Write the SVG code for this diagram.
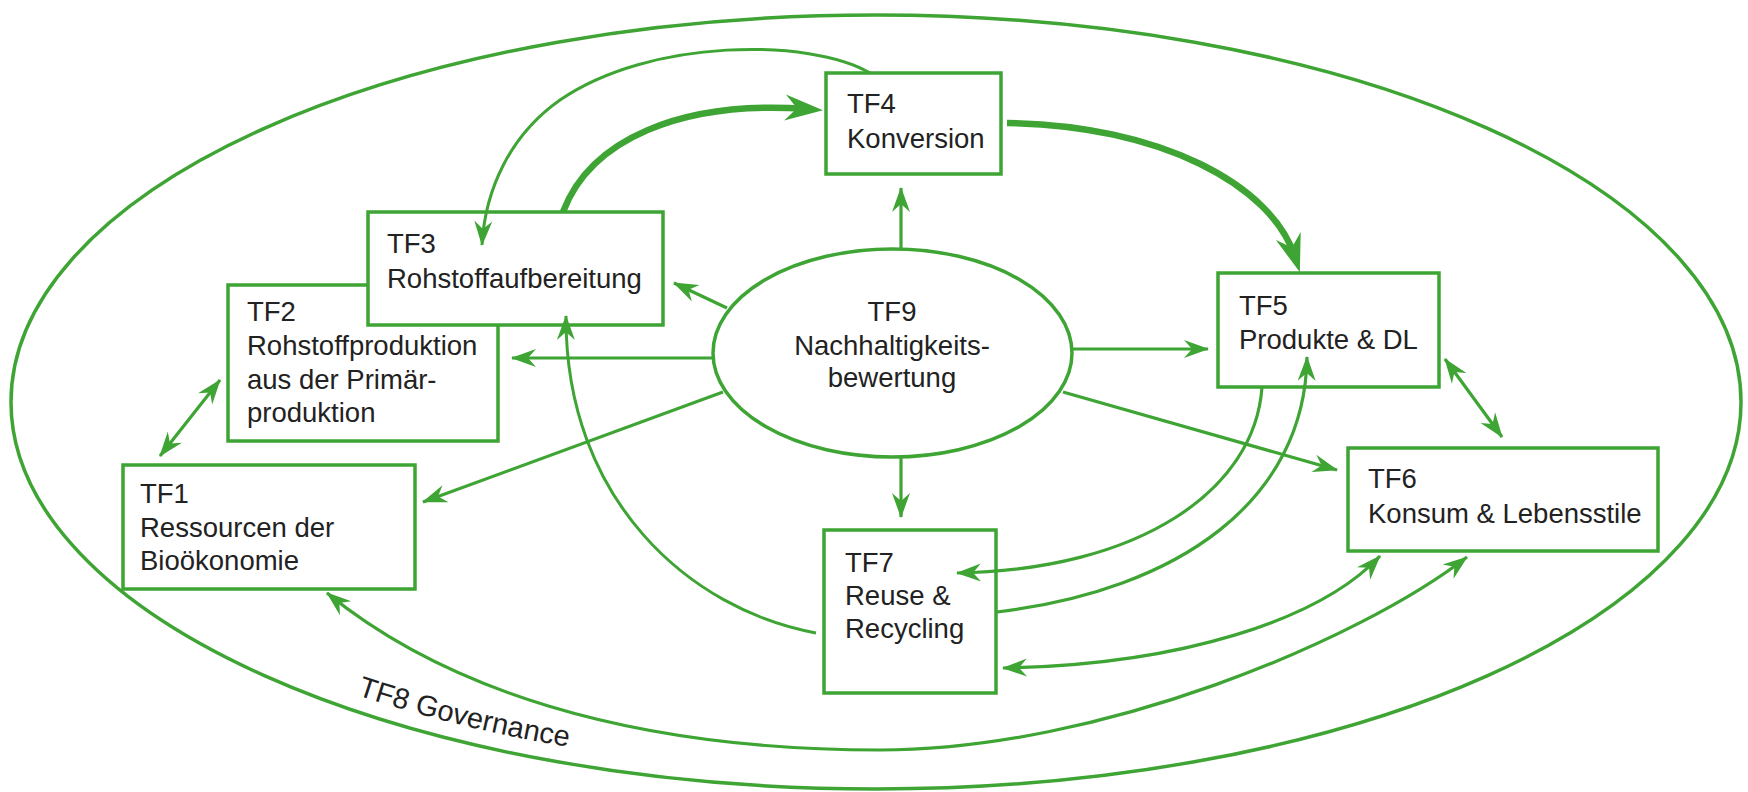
<svg xmlns="http://www.w3.org/2000/svg" width="1748" height="792" viewBox="0 0 1748 792">
<style>
.box{fill:#fff;stroke:#3ea434;stroke-width:3.5}
.ring{fill:none;stroke:#3ea434;stroke-width:3.5}
.lbl{font-family:"Liberation Sans",Arial,sans-serif;font-size:27.5px;fill:#222}
.gov{font-size:29px}
.c{fill:none;stroke:#3ea434;stroke-width:3.2}
.cth{fill:none;stroke:#3ea434;stroke-width:3}
.ck{fill:none;stroke:#3ea434;stroke-width:6.5}
</style>
<defs>
<marker id="ah" markerUnits="userSpaceOnUse" markerWidth="26" markerHeight="18" refX="24" refY="9" orient="auto-start-reverse" overflow="visible"><path d="M0,0 L25,9 L0,18 L8,9 z" fill="#3ea434"/></marker>
<marker id="ahb" markerUnits="userSpaceOnUse" markerWidth="38" markerHeight="26" refX="22" refY="13" orient="auto" overflow="visible"><path d="M0,0 L38,13 L0,26 L12,13 z" fill="#3ea434"/></marker>
<path id="govpath" d="M357,695 A850,370 0 0 0 1000,768"/>
</defs>

<g id="tf8">
<ellipse class="ring" cx="876" cy="402" rx="865" ry="387"/>
<text class="lbl gov"><textPath href="#govpath">TF8 Governance</textPath></text>
</g>

<g id="tf1">
<rect class="box" x="123" y="465" width="292" height="124"/>
<text class="lbl" x="140" y="503">TF1</text>
<text class="lbl" x="140" y="537">Ressourcen der</text>
<text class="lbl" x="140" y="570">Bioökonomie</text>
</g>

<g id="tf2">
<rect class="box" x="228" y="285" width="270" height="156"/>
<text class="lbl" x="247" y="321">TF2</text>
<text class="lbl" x="247" y="355">Rohstoffproduktion</text>
<text class="lbl" x="247" y="389">aus der Primär-</text>
<text class="lbl" x="247" y="422">produktion</text>
</g>

<g id="tf3">
<rect class="box" x="368" y="212" width="295" height="113"/>
<text class="lbl" x="387" y="253">TF3</text>
<text class="lbl" x="387" y="288">Rohstoffaufbereitung</text>
</g>

<g id="tf4">
<rect class="box" x="826" y="73" width="175" height="101"/>
<text class="lbl" x="847" y="113">TF4</text>
<text class="lbl" x="847" y="148">Konversion</text>
</g>

<g id="tf5">
<rect class="box" x="1218" y="273" width="221" height="114"/>
<text class="lbl" x="1239" y="315">TF5</text>
<text class="lbl" x="1239" y="349">Produkte &amp; DL</text>
</g>

<g id="tf6">
<rect class="box" x="1348" y="448" width="310" height="103"/>
<text class="lbl" x="1368" y="488">TF6</text>
<text class="lbl" x="1368" y="523">Konsum &amp; Lebensstile</text>
</g>

<g id="tf7">
<rect class="box" x="824" y="530" width="172" height="163"/>
<text class="lbl" x="845" y="572">TF7</text>
<text class="lbl" x="845" y="605">Reuse &amp;</text>
<text class="lbl" x="845" y="638">Recycling</text>
</g>

<g id="tf9">
<ellipse class="box" cx="892.5" cy="353" rx="179.5" ry="104"/>
<text class="lbl" x="892" y="321" text-anchor="middle">TF9</text>
<text class="lbl" x="892" y="355" text-anchor="middle">Nachhaltigkeits-</text>
<text class="lbl" x="892" y="387" text-anchor="middle">bewertung</text>
</g>

<g id="connectors">
<path class="c" d="M901,249 L901,188" marker-end="url(#ah)"/>
<path class="c" d="M901,457 L901,517" marker-end="url(#ah)"/>
<path class="c" d="M727,308 L674,283" marker-end="url(#ah)"/>
<path class="c" d="M713,358 L512,358" marker-end="url(#ah)"/>
<path class="c" d="M723,392 L423,502" marker-end="url(#ah)"/>
<path class="c" d="M1072,349 L1208,349" marker-end="url(#ah)"/>
<path class="c" d="M1063,392 L1337,470" marker-end="url(#ah)"/>
<path class="c" d="M160,456 L220,380" marker-start="url(#ah)" marker-end="url(#ah)"/>
<path class="c" d="M1445,359 L1502,437" marker-start="url(#ah)" marker-end="url(#ah)"/>
<path class="ck" d="M563,212 C590,140 680,100 807,109" marker-end="url(#ahb)"/>
<path class="ck" d="M1007,123 C1160,125 1272,185 1295,257" marker-end="url(#ahb)"/>
<path class="cth" d="M870,73 C810,38 650,38 560,100 C510,135 485,190 482,245" marker-end="url(#ah)"/>
<path class="cth" d="M816,633 C690,610 565,500 566,316" marker-end="url(#ah)"/>
<path class="c" d="M1262,387 C1255,490 1140,570 957,573" marker-end="url(#ah)"/>
<path class="c" d="M997,612 C1180,590 1305,500 1307,357" marker-end="url(#ah)"/>
<path class="c" d="M1003,668 C1180,665 1320,620 1380,556" marker-start="url(#ah)" marker-end="url(#ah)"/>
<path class="c" d="M327,593 C440,685 620,750 880,750 C1100,750 1360,640 1467,557" marker-start="url(#ah)" marker-end="url(#ah)"/>
</g>
</svg>
